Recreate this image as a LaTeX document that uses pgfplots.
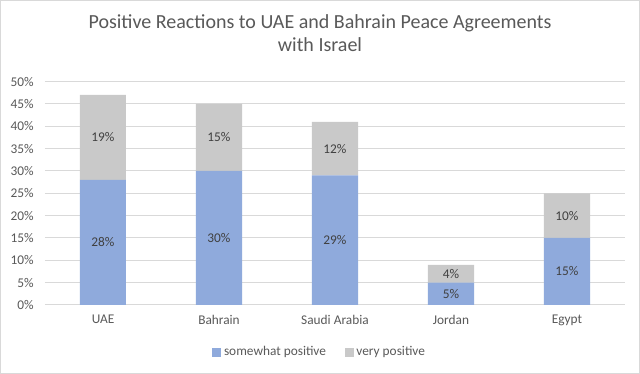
\documentclass[border=0pt]{standalone}
\usepackage{pgfplots}
\pgfplotsset{compat=1.18}
\usepackage{pgfplotstable}
\usepackage{fontspec}
\setmainfont{Carlito}
\definecolor{barblue}{HTML}{8FAADC}
\definecolor{bargray}{HTML}{C9C9C9}
\definecolor{txt}{HTML}{595959}
\definecolor{lbl}{HTML}{404040}
\definecolor{gridc}{HTML}{D9D9D9}
\pgfplotstableread{
x s v
0 28 19
1 30 15
2 29 12
3 5 4
4 15 10
}\data
\pgfplotsset{
  base/.style={
    at={(33.75pt,51.75pt)}, anchor=south west,
    scale only axis, width=435pt, height=167.6pt,
    xmin=-0.5, xmax=4.5, ymin=0, ymax=50,
    /pgf/number format/assume math mode=true,
  }
}
\begin{document}
\begin{tikzpicture}[x=1pt,y=1pt]
\draw[draw=gridc, fill=white, line width=0.75pt] (0.375,0.375) rectangle (479.625,280.125);
\node[font=\fontsize{15}{17.25}\selectfont, text=txt, align=center] at (240,255.4)
  {Positive Reactions to UAE and Bahrain Peace Agreements\\with Israel};
\begin{axis}[base,
  ybar stacked, bar width=34.5pt,
  ytick={0,5,...,50},
  yticklabel={\pgfmathprintnumber{\tick}\%},
  xtick=data,
  xticklabels={UAE,Bahrain,Saudi Arabia,Jordan,Egypt},
  axis line style={draw=none},
  major tick length=0pt,
  ymajorgrids, grid style={draw=gridc, line width=0.75pt},
  tick label style={font=\fontsize{10}{12}\selectfont, text=txt},
  xticklabel style={yshift=-4pt},
  yticklabel style={xshift=-5pt},
  legend style={at={(0.4741,-0.211)}, anchor=center, draw=none, fill=none,
    legend columns=2, font=\fontsize{10}{12}\selectfont, text=txt,
    /tikz/every even column/.append style={column sep=12pt}},
  legend image code/.code={\fill[#1] (0pt,-3.4pt) rectangle (6.8pt,3.4pt);},
]
\addplot[fill=barblue, draw=none] table[x=x,y=s]{\data};
\addlegendentry{somewhat positive}
\addplot[fill=bargray, draw=none] table[x=x,y=v]{\data};
\addlegendentry{very positive}
\end{axis}
\begin{axis}[base, hide axis]
\addplot[draw=none, mark=none, nodes near coords={\pgfmathprintnumber{\pgfplotspointmeta}\%},
  point meta=\thisrow{s},
  every node near coord/.append style={anchor=center, font=\fontsize{10}{12}\selectfont, text=lbl}]
  table[x=x, y expr=\thisrow{s}/2]{\data};
\addplot[draw=none, mark=none, nodes near coords={\pgfmathprintnumber{\pgfplotspointmeta}\%},
  point meta=\thisrow{v},
  every node near coord/.append style={anchor=center, font=\fontsize{10}{12}\selectfont, text=lbl}]
  table[x=x, y expr=\thisrow{s}+\thisrow{v}/2]{\data};
\end{axis}
\end{tikzpicture}
\end{document}
